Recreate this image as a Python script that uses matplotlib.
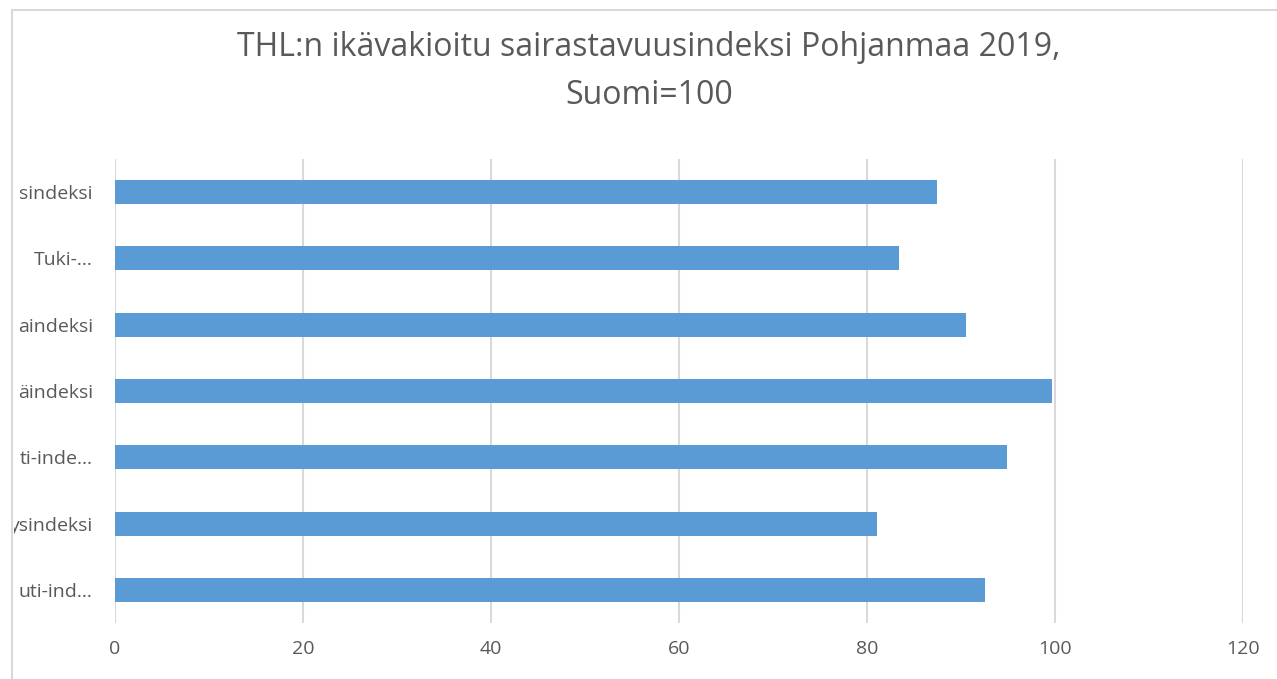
import matplotlib
matplotlib.use("Agg")
import matplotlib.pyplot as plt
from matplotlib.patches import Rectangle
from matplotlib.transforms import Bbox, TransformedBbox

# data (top to bottom as shown in the chart)
labels = ['sindeksi', 'Tuki-...', 'aindeksi', 'äindeksi', 'ti-inde...', 'ysindeksi', 'uti-ind...']
values = [87.4, 83.4, 90.5, 99.7, 94.9, 81.1, 92.6]
xticks = [0, 20, 40, 60, 80, 100, 120]

plt.rcParams['font.family'] = ['Open Sans', 'DejaVu Sans']

W, H = 1277, 679
fig = plt.figure(figsize=(W / 100, H / 100), dpi=100)
ax = fig.add_axes([115 / W, 1 - 623 / H, (1243 - 115) / W, (623 - 159) / H])

pos = list(range(len(labels)))[::-1]
ax.barh(pos, values, height=0.36, color='#5b9bd5', zorder=3)

ax.set_xlim(0, 120)
ax.set_ylim(-0.5, len(labels) - 0.5)
ax.set_xticks(xticks)
ax.set_xticklabels([str(t) for t in xticks])
ax.set_yticks(pos)
ax.set_yticklabels(labels)
ax.grid(axis='x', color='#d9d9d9', linewidth=1.5, zorder=0)
ax.tick_params(axis='both', length=0, labelsize=14, labelcolor='#595959')
ax.tick_params(axis='x', pad=12)
ax.tick_params(axis='y', pad=16)
for s in ax.spines.values():
    s.set_visible(False)

# labels are cut off at the chart border
clip = TransformedBbox(Bbox([[14 / W, 0], [1, 1]]), fig.transFigure)
for lbl in ax.get_yticklabels():
    lbl.set_clip_box(clip)
    lbl.set_clip_on(True)

fig.text(0.508, 1 - 47 / H, 'THL:n ikävakioitu sairastavuusindeksi Pohjanmaa 2019,',
         ha='center', va='center', fontsize=23, color='#595959')
fig.text(0.508, 1 - 96 / H, 'Suomi=100', ha='center', va='center', fontsize=23, color='#595959')

# chart area border
fig.patches.append(Rectangle((12 / W, -0.1), 1.2, 1.1 - 10 / H, transform=fig.transFigure,
                             fill=False, edgecolor='#d9d9d9', linewidth=1.5))

fig.savefig('out.png', dpi=100)
